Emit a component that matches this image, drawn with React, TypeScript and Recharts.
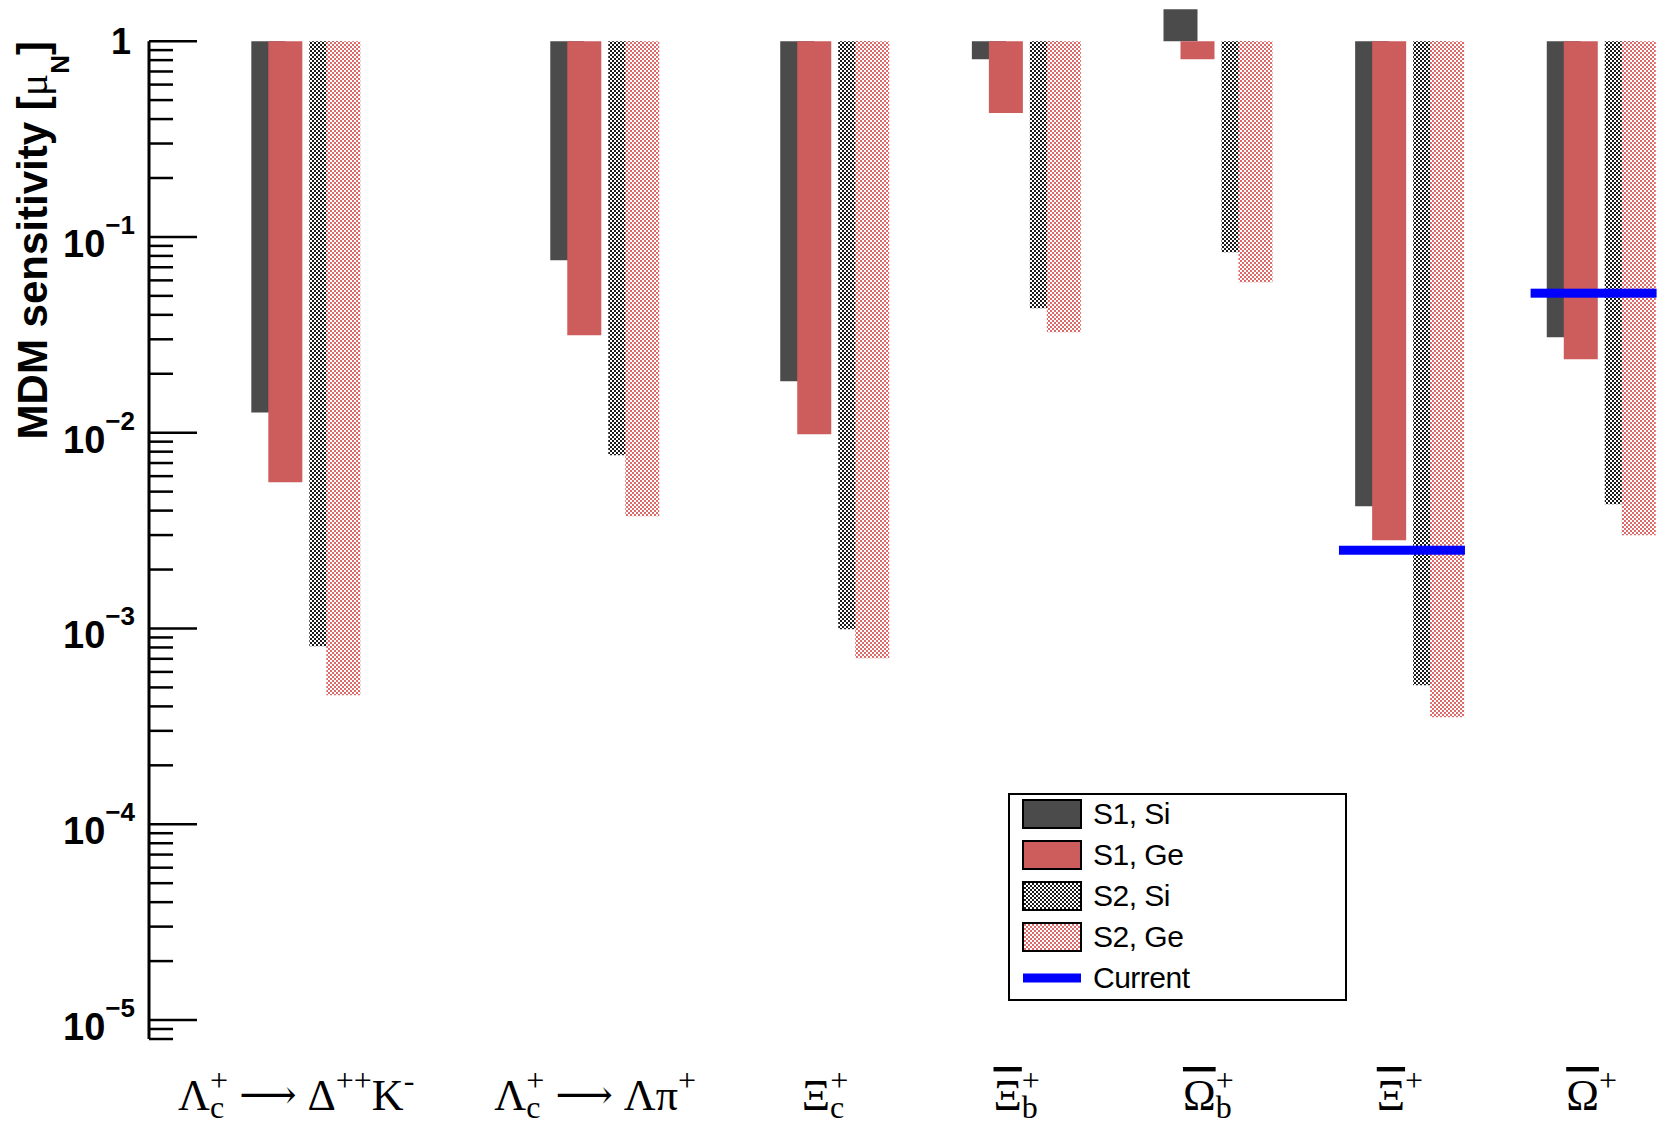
import React from "react";
import { ComposedChart, Bar, Scatter, XAxis, YAxis, ReferenceLine, Legend } from "recharts";

// decay channels / baryons on the x axis
const categories = ["Lc_DeltaK", "Lc_LambdaPi", "Xic", "antiXib", "antiOmegab", "antiXi", "antiOmega"];
// x position of each group on the numeric x axis
const slot = [0.24, 1.8, 3, 4, 5, 6, 7];

// MDM sensitivity [mu_N]
const s1Si = [0.0127, 0.0761, 0.0183, 0.809, 1.457, 0.00421, 0.0307];
const s1Ge = [0.00559, 0.0315, 0.00982, 0.429, 0.809, 0.00282, 0.0237];
const s2Si = [0.000811, 0.00767, 0.000991, 0.0432, 0.0836, 0.000513, 0.00431];
const s2Ge = [0.000456, 0.00374, 0.000705, 0.0326, 0.0587, 0.000352, 0.00299];
const current: (number | null)[] = [null, null, null, null, null, 0.00251, 0.0516];

const seriesNames = ["S1, Si", "S1, Ge", "S2, Si", "S2, Ge", "Current"];

const yMajor = [1, 0.1, 0.01, 0.001, 1e-4, 1e-5];
const yMajorSup = ["", "\u22121", "\u22122", "\u22123", "\u22124", "\u22125"];

type Part = { t: string; k?: "sub" | "sup" | "arrow"; dx?: number; bar?: boolean };
const xLabels: Part[][] = [
  [{ t: "Λ" }, { t: "c", k: "sub" }, { t: "+", k: "sup", dx: -14 }, { t: " " }, { t: "⟶", k: "arrow" }, { t: " Δ" }, { t: "++", k: "sup" }, { t: "K" }, { t: "-", k: "sup" }],
  [{ t: "Λ" }, { t: "c", k: "sub" }, { t: "+", k: "sup", dx: -14 }, { t: " " }, { t: "⟶", k: "arrow" }, { t: " Λπ" }, { t: "+", k: "sup" }],
  [{ t: "Ξ" }, { t: "c", k: "sub" }, { t: "+", k: "sup", dx: -14 }],
  [{ t: "Ξ", bar: true }, { t: "b", k: "sub" }, { t: "+", k: "sup", dx: -16 }],
  [{ t: "Ω", bar: true }, { t: "b", k: "sub" }, { t: "+", k: "sup", dx: -16 }],
  [{ t: "Ξ", bar: true }, { t: "+", k: "sup" }],
  [{ t: "Ω", bar: true }, { t: "+", k: "sup" }],
];

const Y_MIN = 8e-6;
const Y_MAX = 10 ** 0.2;
const X_MIN = -0.58;
const X_MAX = 7.31;

const DARK = "#4b4b4b";
const RED = "#cd5c5c";
const BLUE = "#0000ff";

// bars hang from 1 down (or up) to the value
const span = (v: number) => (v < 1 ? [v, 1] : [1, v]);

const rows = categories.map((c, i) => ({
  name: c,
  pos: slot[i],
  s1Si: span(s1Si[i]),
  s1Ge: span(s1Ge[i]),
  s2Si: span(s2Si[i]),
  s2Ge: span(s2Ge[i]),
}));

const currentRows = categories
  .map((c, i) => ({ name: c, pos: slot[i], cur: current[i] }))
  .filter((r) => r.cur !== null);

const yTicks: number[] = [...yMajor];
for (let e = -6; e <= -1; e++) {
  for (let k = 2; k <= 9; k++) {
    const v = k * 10 ** e;
    if (v >= Y_MIN * 0.999 && v < 1) yTicks.push(v);
  }
}
yTicks.sort((a, b) => a - b);

function YTick(props: any) {
  const { x, y, payload } = props;
  const lg = Math.log10(payload.value);
  const exp = Math.round(lg);
  const major = Math.abs(lg - exp) < 1e-6;
  const idx = yMajor.findIndex((m) => Math.abs(Math.log10(m) - exp) < 1e-6);
  return (
    <g>
      <line x1={x} x2={x + (major ? 48 : 24)} y1={y} y2={y} stroke="#000" strokeWidth={2.5} />
      {major && idx === 0 && (
        <text x={x - 18} y={y + 12.5} textAnchor="end" fontSize={36} fontWeight="bold" fill="#000">
          1
        </text>
      )}
      {major && idx > 0 && (
        <text x={x - 14} y={y + 20} textAnchor="end" fontSize={38} fontWeight="bold" fill="#000">
          10
          <tspan fontSize={26} dy={-23}>
            {yMajorSup[idx]}
          </tspan>
        </text>
      )}
    </g>
  );
}

function XTick(props: any) {
  const { x, y, index } = props;
  const parts = xLabels[index] || [];
  let off = 0;
  return (
    <text
      x={x - 10}
      y={y + 71}
      textAnchor="middle"
      fontFamily="'Liberation Serif', 'Times New Roman', serif"
      fontSize={44}
      fill="#000"
      style={{ whiteSpace: "pre" }}
    >
      {parts.map((p, i) => {
        const target = p.k === "sub" ? 8 : p.k === "sup" ? -19 : p.k === "arrow" ? -2 : 0;
        const dy = target - off;
        off = target;
        return (
          <tspan
            key={i}
            dy={dy}
            dx={p.dx}
            fontSize={p.k === "sub" || p.k === "sup" ? 32 : p.k === "arrow" ? 40 : 44}
            fontFamily={p.k === "arrow" ? "'DejaVu Serif', serif" : undefined}
            style={p.bar ? { textDecoration: "overline" } : undefined}
          >
            {p.t}
          </tspan>
        );
      })}
    </text>
  );
}

const renderTitle = () => (
  <text
    transform="rotate(-90)"
    x={-41}
    y={47}
    textAnchor="end"
    fontSize={42}
    fontWeight="bold"
    fill="#000"
    style={{ whiteSpace: "pre" }}
  >
    MDM sensitivity [
    <tspan fontFamily="'Liberation Serif', serif" fontWeight="normal">μ</tspan>
    <tspan fontSize={26} dy={22}>N</tspan>
    <tspan dy={-22}>]</tspan>
  </text>
);

const CurrentMark = (p: any) => {
  if (p.cx == null || p.cy == null) return null;
  return <rect x={p.cx - 71} y={p.cy - 4.5} width={126} height={9} fill={BLUE} />;
};

const Patterns = ({ pre }: { pre: string }) => (
  <defs>
    <pattern id={pre + "Grey"} width={4} height={4} patternUnits="userSpaceOnUse">
      <rect width={4} height={4} fill="#fff" />
      <rect width={2} height={2} fill="#1a1a1a" />
      <rect x={2} y={2} width={2} height={2} fill="#1a1a1a" />
    </pattern>
    <pattern id={pre + "Pink"} width={4} height={4} patternUnits="userSpaceOnUse">
      <rect width={4} height={4} fill="#fff" />
      <rect width={2} height={2} fill="#dc6a6a" />
      <rect x={2} y={2} width={2} height={2} fill="#dc6a6a" />
    </pattern>
  </defs>
);

function Swatch({ i }: { i: number }) {
  if (i === 4) {
    return (
      <svg width={60} height={30}>
        <rect x={1} y={10.5} width={58} height={9} fill={BLUE} />
      </svg>
    );
  }
  const fills = [DARK, RED, "url(#lgGrey)", "url(#lgPink)"];
  return (
    <svg width={60} height={30}>
      <Patterns pre="lg" />
      <rect x={1} y={1} width={58} height={28} fill={fills[i]} stroke="#000" strokeWidth={2} />
    </svg>
  );
}

const LegendBox = () => (
  <div
    style={{
      width: 339,
      height: 208,
      boxSizing: "border-box",
      border: "2px solid #000",
      background: "#fff",
      position: "relative",
      fontFamily: "'Liberation Sans', Arial, sans-serif",
      fontSize: 30,
      color: "#000",
    }}
  >
    {seriesNames.map((n, i) => (
      <div key={n} style={{ position: "absolute", left: 12, top: 4 + i * 41, height: 30, display: "flex" }}>
        <Swatch i={i} />
        <span style={{ marginLeft: 11, lineHeight: "30px", whiteSpace: "pre", letterSpacing: -0.5 }}>{n}</span>
      </div>
    ))}
  </div>
);

export default function App() {
  return (
    <div
      style={{
        position: "absolute",
        left: 0,
        top: 0,
        width: 1661,
        height: 1125,
        background: "#fff",
        fontFamily: "'Liberation Sans', Arial, sans-serif",
      }}
    >
      <ComposedChart
        width={1661}
        height={1125}
        data={rows}
        margin={{ top: 2, right: 0, bottom: 6, left: 0 }}
        barGap={-17}
      >
        <Patterns pre="dot" />
        <XAxis
          dataKey="pos"
          type="number"
          domain={[X_MIN, X_MAX]}
          allowDataOverflow
          ticks={slot}
          interval={0}
          tick={<XTick />}
          tickSize={0}
          tickMargin={0}
          axisLine={false}
          tickLine={false}
          height={80}
        />
        <YAxis
          type="number"
          scale="log"
          domain={[Y_MIN, Y_MAX]}
          allowDataOverflow
          ticks={yTicks}
          interval={0}
          tick={<YTick />}
          tickSize={0}
          tickMargin={0}
          axisLine={false}
          tickLine={false}
          width={149}
          label={renderTitle}
        />
        <ReferenceLine
          segment={[
            { x: X_MIN, y: 1 },
            { x: X_MIN, y: Y_MIN },
          ]}
          stroke="#000"
          strokeWidth={3}
          ifOverflow="visible"
        />
        <Bar dataKey="s1Si" name={seriesNames[0]} barSize={34} fill={DARK} isAnimationActive={false} />
        <Bar dataKey="s1Ge" name={seriesNames[1]} barSize={34} fill={RED} isAnimationActive={false} />
        <Bar dataKey="gap" barSize={41} fill="none" legendType="none" isAnimationActive={false} />
        <Bar dataKey="s2Si" name={seriesNames[2]} barSize={34} fill="url(#dotGrey)" isAnimationActive={false} />
        <Bar dataKey="s2Ge" name={seriesNames[3]} barSize={34} fill="url(#dotPink)" isAnimationActive={false} />
        <Scatter
          data={currentRows}
          dataKey="cur"
          name={seriesNames[4]}
          shape={<CurrentMark />}
          isAnimationActive={false}
        />
        <Legend
          content={<LegendBox />}
          layout="vertical"
          align="center"
          verticalAlign="middle"
          wrapperStyle={{ left: 1008, top: 793, width: 339, height: 208 }}
        />
      </ComposedChart>
    </div>
  );
}
